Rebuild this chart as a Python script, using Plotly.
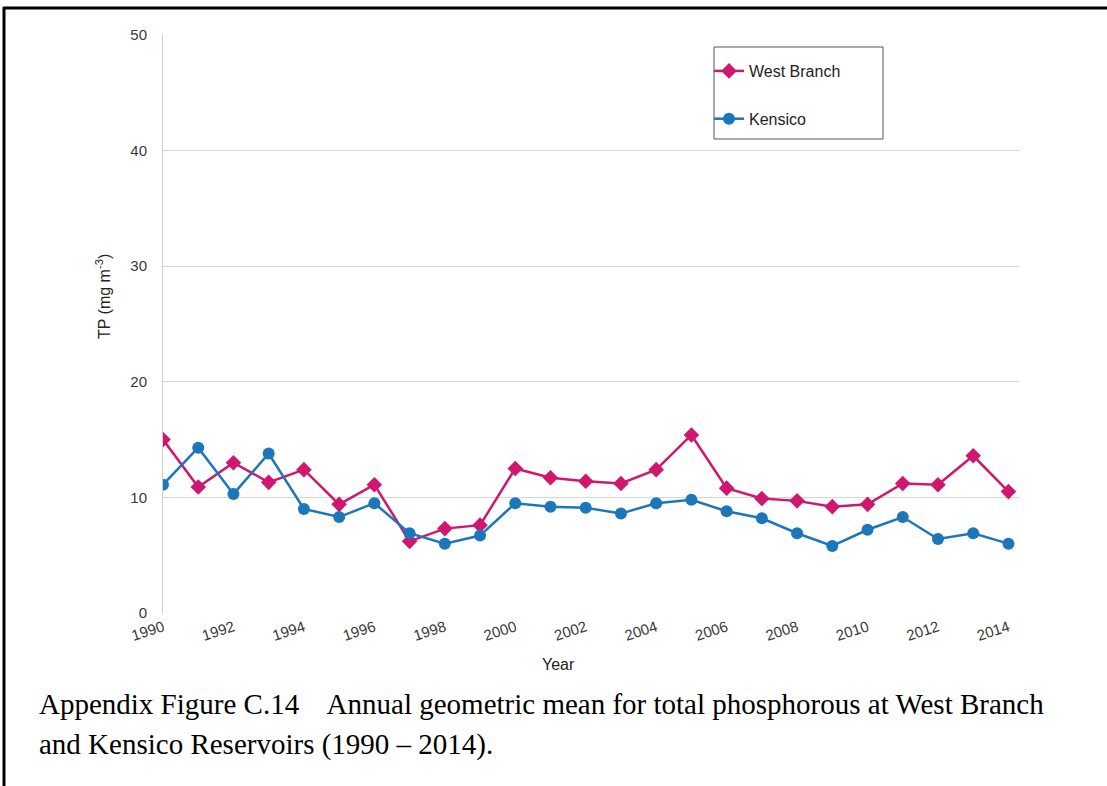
import plotly.graph_objects as go

# Annual geometric mean total phosphorus (mg m^-3)
years = list(range(1990, 2015))
west_branch = [15.0, 10.9, 13.0, 11.3, 12.4, 9.4, 11.1, 6.2, 7.3, 7.6,
               12.5, 11.7, 11.4, 11.2, 12.4, 15.4, 10.8, 9.9, 9.7, 9.2,
               9.4, 11.2, 11.1, 13.6, 10.5]
kensico = [11.1, 14.3, 10.3, 13.8, 9.0, 8.3, 9.5, 6.9, 6.0, 6.7,
           9.5, 9.2, 9.1, 8.6, 9.5, 9.8, 8.8, 8.2, 6.9, 5.8,
           7.2, 8.3, 6.4, 6.9, 6.0]
y_ticks = [0, 10, 20, 30, 40, 50]
x_ticks = list(range(1990, 2015, 2))

W, H = 1107, 786
L, R, T, B = 163, 88, 35, 173
PW, PH = W - L - R, H - T - B


def px(x):
    return (x - L) / PW


def py(y):
    return (H - B - y) / PH


PINK = "#D0176F"
BLUE = "#1C76BA"
SANS = "Liberation Sans, Arial, sans-serif"
SERIF = "Liberation Serif, Times New Roman, serif"

fig = go.Figure()
fig.add_trace(go.Scatter(
    x=years, y=west_branch, name="West Branch", mode="lines+markers",
    legendgroup="wb",
    line=dict(color=PINK, width=2.5),
    marker=dict(symbol="diamond", size=12, color=PINK),
))
fig.add_trace(go.Scatter(
    x=years, y=kensico, name="Kensico", mode="lines+markers",
    legendgroup="ke",
    line=dict(color=BLUE, width=2.5),
    marker=dict(symbol="circle", size=12, color=BLUE),
))

axis_font = dict(family=SANS, size=15, color="#3a3a3a")

fig.update_xaxes(
    range=[1990, 2014.3], tickvals=x_ticks, ticktext=[str(v) for v in x_ticks],
    tickangle=-18, tickfont=axis_font, showgrid=False, zeroline=False,
    showline=False, ticks="", ticklabelstandoff=2,
)
fig.update_yaxes(
    range=[0, 50], tickvals=y_ticks, tickfont=axis_font,
    showgrid=True, gridcolor="#d6d6d6", gridwidth=1,
    zeroline=True, zerolinecolor="white", zerolinewidth=1,
    showline=True, linecolor="#d0d0d0", linewidth=1,
    ticks="", ticklabelstandoff=12,
)

fig.update_layout(
    width=W, height=H,
    margin=dict(l=L, r=R, t=T, b=B, autoexpand=False),
    plot_bgcolor="white", paper_bgcolor="white",
    showlegend=True,
    legend=dict(
        x=px(709), y=py(54), xanchor="left", yanchor="top",
        borderwidth=0, bgcolor="rgba(0,0,0,0)",
        font=dict(family=SANS, size=16, color="#222"),
        traceorder="grouped", tracegroupgap=24, itemwidth=30,
    ),
    shapes=[
        # legend frame
        dict(type="rect", xref="paper", yref="paper",
             x0=px(714), x1=px(883), y0=py(47), y1=py(139),
             line=dict(color="#555555", width=1), fillcolor="white", layer="below"),
        # frame: top and left rules
        dict(type="line", xref="paper", yref="paper",
             x0=px(3), x1=px(W), y0=py(8), y1=py(8),
             line=dict(color="black", width=3)),
        dict(type="line", xref="paper", yref="paper",
             x0=px(4), x1=px(4), y0=py(7), y1=py(H + 2),
             line=dict(color="black", width=3)),
    ],
    annotations=[
        dict(text="TP (mg m<sup>-3</sup>)", textangle=-90, x=px(103), y=py(297),
             xref="paper", yref="paper", xanchor="center", yanchor="middle",
             showarrow=False, font=dict(family=SANS, size=16, color="#222")),
        dict(text="Year", x=px(558), y=py(664), xref="paper", yref="paper",
             xanchor="center", yanchor="middle",
             showarrow=False, font=dict(family=SANS, size=16, color="#222")),
        dict(text="Appendix Figure C.14\u00a0\u00a0\u00a0 Annual geometric mean for total phosphorous at West Branch",
             x=px(37), y=py(704), xref="paper", yref="paper", xanchor="left", yanchor="middle",
             showarrow=False, font=dict(family=SERIF, size=29, color="black")),
        dict(text="and Kensico Reservoirs (1990 \u2013 2014).",
             x=px(37), y=py(744), xref="paper", yref="paper", xanchor="left", yanchor="middle",
             showarrow=False, font=dict(family=SERIF, size=29, color="black")),
    ],
)

fig.write_html("out.html")
